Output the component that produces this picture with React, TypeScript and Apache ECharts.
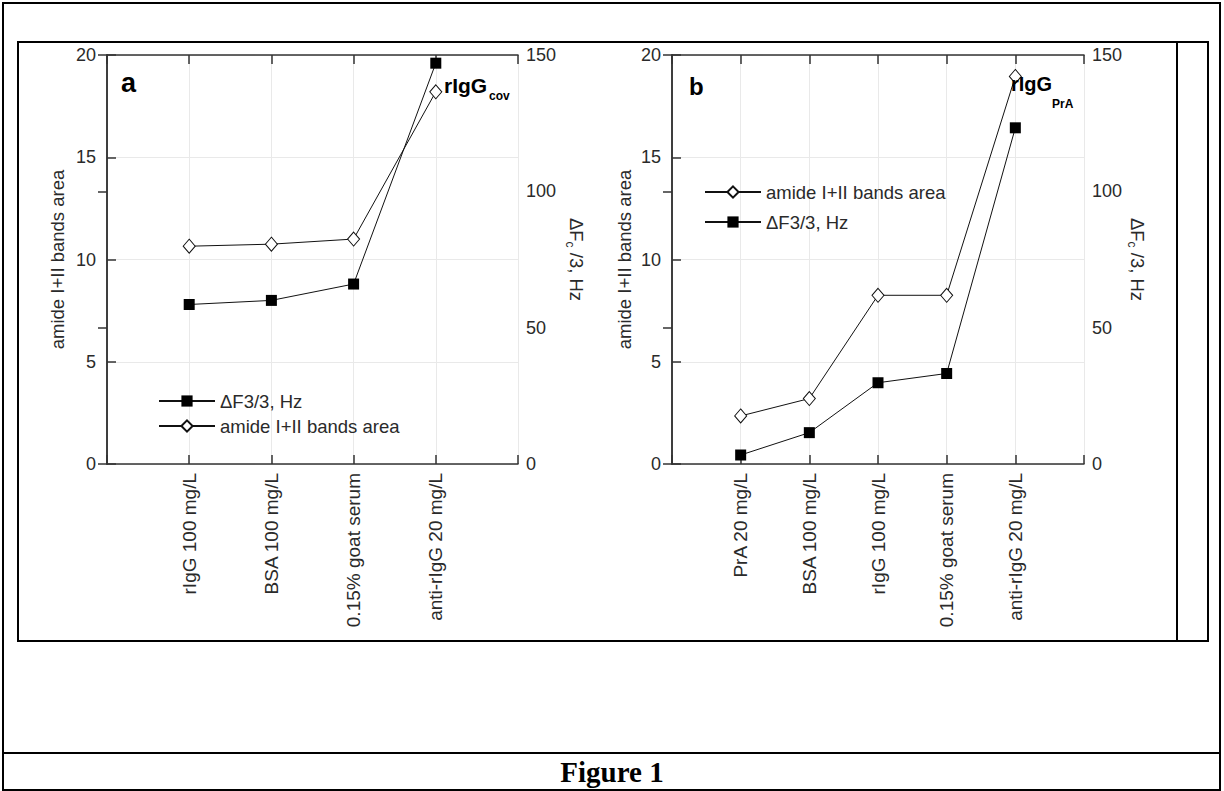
import React, { useEffect, useRef } from "react";
import * as echarts from "echarts";

const catsA = ["rIgG 100 mg/L", "BSA 100 mg/L", "0.15% goat serum", "anti-rIgG 20 mg/L"];
const amideA = [10.65, 10.75, 11.0, 18.2];
const dFA = [58.5, 60, 66, 147];

const catsB = ["PrA 20 mg/L", "BSA 100 mg/L", "rIgG 100 mg/L", "0.15% goat serum", "anti-rIgG 20 mg/L"];
const amideB = [2.35, 3.2, 8.25, 8.25, 18.95];
const dFB = [3.3, 11.5, 29.8, 33.2, 123.3];

const leftTicks = { min: 0, max: 20, interval: 5 };
const rightTicks = { min: 0, max: 150, interval: 50 };

const NAME_AMIDE = "amide I+II bands area";
const NAME_DF = "ΔF3/3, Hz";

const SANS = "'Liberation Sans', Arial, sans-serif";
const FRAME = "#333";
const TXT = "#2a2a2a";
const GRID = "#e9e9e9";

function xAxes(gridIndex: number, cats: string[]) {
  const base = {
    gridIndex,
    type: "value",
    min: 0,
    max: cats.length + 1,
    interval: 1,
    axisLine: { show: true, onZero: false, lineStyle: { color: FRAME, width: 1.5 } },
    axisTick: { show: true, inside: true, length: 9, lineStyle: { color: FRAME, width: 1.5 } },
  };
  return [
    {
      ...base,
      position: "bottom",
      splitLine: { show: true, lineStyle: { color: GRID, width: 1 } },
      axisLabel: {
        show: true,
        rotate: 90,
        margin: 9,
        fontSize: 19,
        fontFamily: SANS,
        color: TXT,
        formatter: (v: number) => cats[v - 1] ?? "",
      },
    },
    {
      ...base,
      position: "top",
      splitLine: { show: false },
      axisLabel: { show: false },
    },
  ];
}

function yAxes(gridIndex: number, leftGap: number, rightGap: number) {
  const common = {
    gridIndex,
    type: "value",
    axisLine: { show: true, lineStyle: { color: FRAME, width: 1.5 } },
    axisTick: { show: true, inside: true, length: 9, lineStyle: { color: FRAME, width: 1.5 } },
  };
  return [
    {
      ...common,
      ...leftTicks,
      position: "left",
      name: NAME_AMIDE,
      nameLocation: "middle",
      nameRotate: 90,
      nameGap: leftGap,
      nameTextStyle: { fontSize: 18.5, fontFamily: SANS, color: TXT },
      splitLine: { show: true, lineStyle: { color: GRID, width: 1 } },
      axisLabel: { margin: 11, fontSize: 18, fontFamily: SANS, color: TXT },
    },
    {
      ...common,
      ...rightTicks,
      position: "right",
      name: "{m|ΔF}{s|c}{m| /3, Hz}",
      nameLocation: "middle",
      nameRotate: -90,
      nameGap: rightGap,
      nameTextStyle: {
        fontFamily: SANS,
        color: TXT,
        rich: {
          m: { fontSize: 18.5, fontFamily: SANS, color: TXT, lineHeight: 24 },
          s: { fontSize: 12, fontFamily: SANS, color: TXT, verticalAlign: "bottom", lineHeight: 24 },
        },
      },
      splitLine: { show: false },
      axisLabel: { margin: 8, fontSize: 18, fontFamily: SANS, color: TXT },
    },
  ];
}

function pairs(vals: number[]) {
  return vals.map((v, i) => [i + 1, v]);
}

function amideSeries(xi: number, yi: number, vals: number[]) {
  return {
    name: NAME_AMIDE,
    type: "line",
    xAxisIndex: xi,
    yAxisIndex: yi,
    data: pairs(vals),
    symbol: "diamond",
    symbolSize: [12, 14],
    showAllSymbol: true,
    itemStyle: { color: "#fff", borderColor: "#111", borderWidth: 1 },
    lineStyle: { color: "#111", width: 1 },
    z: 4,
  };
}

function dfSeries(xi: number, yi: number, vals: number[]) {
  return {
    name: NAME_DF,
    type: "line",
    xAxisIndex: xi,
    yAxisIndex: yi,
    data: pairs(vals),
    symbol: "rect",
    symbolSize: 11,
    showAllSymbol: true,
    itemStyle: { color: "#000", borderColor: "#000", borderWidth: 0 },
    lineStyle: { color: "#111", width: 1 },
    z: 3,
  };
}

function txt(text: string, x: number, y: number, size: number, opts: any = {}) {
  return {
    type: "text",
    x,
    y,
    z: 100,
    style: {
      text,
      fontSize: size,
      fontFamily: opts.family ?? SANS,
      fontWeight: opts.weight ?? "bold",
      fill: opts.fill ?? "#000",
      textAlign: opts.align ?? "left",
      align: opts.align ?? "left",
      textVerticalAlign: "middle",
      verticalAlign: "middle",
    },
  };
}

export default function App() {
  const ref = useRef<HTMLDivElement>(null);
  useEffect(() => {
    if (!ref.current) return;
    const chart = echarts.init(ref.current, undefined, { renderer: "svg" });
    const legendText = { fontSize: 18.5, fontFamily: SANS, color: TXT, lineHeight: 20 };
    chart.setOption({
      animation: false,
      backgroundColor: "#fff",
      grid: [
        { left: 107, top: 55, width: 411, height: 409, containLabel: false },
        { left: 672, top: 55, width: 412, height: 409, containLabel: false },
      ],
      xAxis: [...xAxes(0, catsA), ...xAxes(1, catsB)],
      yAxis: [...yAxes(0, 40, 46), ...yAxes(1, 38, 38)],
      legend: [
        {
          orient: "vertical",
          left: 153,
          top: 386,
          itemWidth: 56,
          itemHeight: 14,
          itemGap: 5,
          selectedMode: false,
          data: [NAME_DF, NAME_AMIDE],
          textStyle: legendText,
        },
        {
          orient: "vertical",
          left: 699,
          top: 177,
          itemWidth: 56,
          itemHeight: 14,
          itemGap: 10,
          selectedMode: false,
          data: [NAME_AMIDE, NAME_DF],
          textStyle: legendText,
        },
      ],
      series: [
        dfSeries(0, 1, dFA),
        amideSeries(0, 0, amideA),
        dfSeries(2, 3, dFB),
        amideSeries(2, 2, amideB),
      ],
      graphic: [
        {
          type: "rect",
          shape: { x: 3, y: 3, width: 1217, height: 787 },
          style: { fill: "none", stroke: "#000", lineWidth: 2 },
          z: 90,
        },
        {
          type: "line",
          shape: { x1: 3, y1: 753, x2: 1220, y2: 753 },
          style: { stroke: "#000", lineWidth: 2 },
          z: 90,
        },
        {
          type: "rect",
          shape: { x: 18, y: 42, width: 1190, height: 599 },
          style: { fill: "none", stroke: "#000", lineWidth: 2 },
          z: 90,
        },
        {
          type: "line",
          shape: { x1: 1177, y1: 42, x2: 1177, y2: 641 },
          style: { stroke: "#000", lineWidth: 2 },
          z: 90,
        },
        txt("a", 121, 83, 27),
        txt("b", 689, 86, 24),
        txt("rIgG", 444, 85, 21),
        txt("cov", 489, 96, 12),
        txt("rIgG", 1011, 84, 20),
        txt("PrA", 1052, 104, 12),
        txt("Figure 1", 612, 772, 29, { family: "'Liberation Serif', 'Times New Roman', serif", align: "center" }),
      ],
    });
    return () => chart.dispose();
  }, []);
  return (
    <div
      ref={ref}
      style={{ position: "fixed", left: 0, top: 0, width: 1224, height: 791, background: "#fff" }}
    />
  );
}
